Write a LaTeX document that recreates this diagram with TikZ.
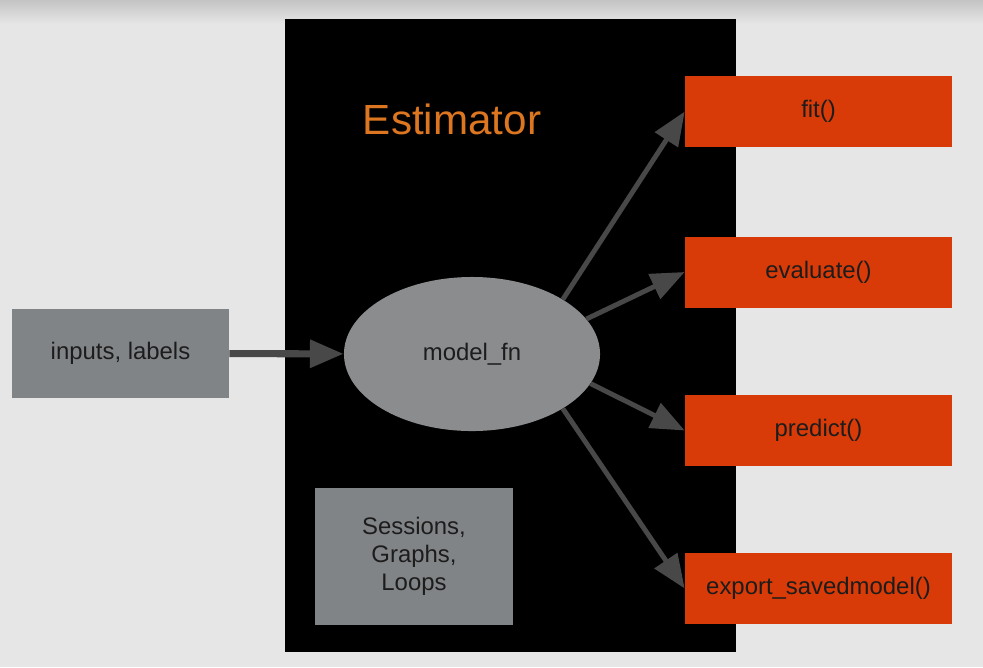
\documentclass[tikz,border=0pt]{standalone}
\usepackage{fontspec}
\setmainfont{Liberation Sans}
\usetikzlibrary{shapes.geometric,arrows.meta}
\definecolor{slidebg}{HTML}{E6E6E6}
\definecolor{slidetop}{HTML}{C4C4C4}
\definecolor{boxgray}{HTML}{818486}
\definecolor{fngray}{HTML}{8A8C8E}
\definecolor{methodred}{HTML}{D83A08}
\definecolor{estorange}{HTML}{DC7620}
\definecolor{arrowgray}{HTML}{484848}
\definecolor{labeltext}{HTML}{1C1C1C}

\begin{document}
\begin{tikzpicture}[x=0.025cm,y=-0.025cm,line width=.35pt,
  font=\fontsize{17}{20}\selectfont,
  graybox/.style={fill=boxgray,inner sep=0pt,text=labeltext,align=center},
  method/.style={fill=methodred,minimum width=6.675cm,minimum height=1.775cm,inner sep=0pt,text=labeltext},
  flow/.style={draw=arrowgray,line width=3.5pt,-{Triangle[length=24pt,width=19pt]}}]
% slide
\fill[slidebg] (0,0) rectangle (983,667);
\shade[top color=slidetop,bottom color=slidebg] (0,0) rectangle (983,24);
\fill[black] (285,19) rectangle (736,652);
\node[text=estorange,font=\fontsize{30}{33}\selectfont] (est) at (452,119) {Estimator};
% nodes
\node[graybox,minimum width=5.425cm,minimum height=2.225cm] (inp) at (120.5,353.5) {inputs, labels};
\node[ellipse,fill=fngray,minimum width=6.4cm,minimum height=3.85cm,inner sep=0pt,text=labeltext] (mfn) at (472,354) {model\_fn};
\node[graybox,minimum width=4.925cm,minimum height=3.4cm] (sgl) at (414,556.5) {Sessions,\\Graphs,\\Loops};
\node[method] (fit) at (818.5,111.5) {fit()};
\node[method] (eval) at (818.5,272) {evaluate()};
\node[method] (pred) at (818.5,430.5) {predict()};
\node[method] (exp) at (818.5,588.5) {export\_savedmodel()};
% connectors
\draw[flow,line width=5pt] (inp) -- (mfn);
\draw[flow] (mfn.31) -- (fit.west);
\draw[flow] (mfn.17) -- (eval.west);
\draw[flow] (mfn.-14) -- (pred.west);
\draw[flow] (mfn.-31) -- (exp.west);
\end{tikzpicture}
\end{document}
